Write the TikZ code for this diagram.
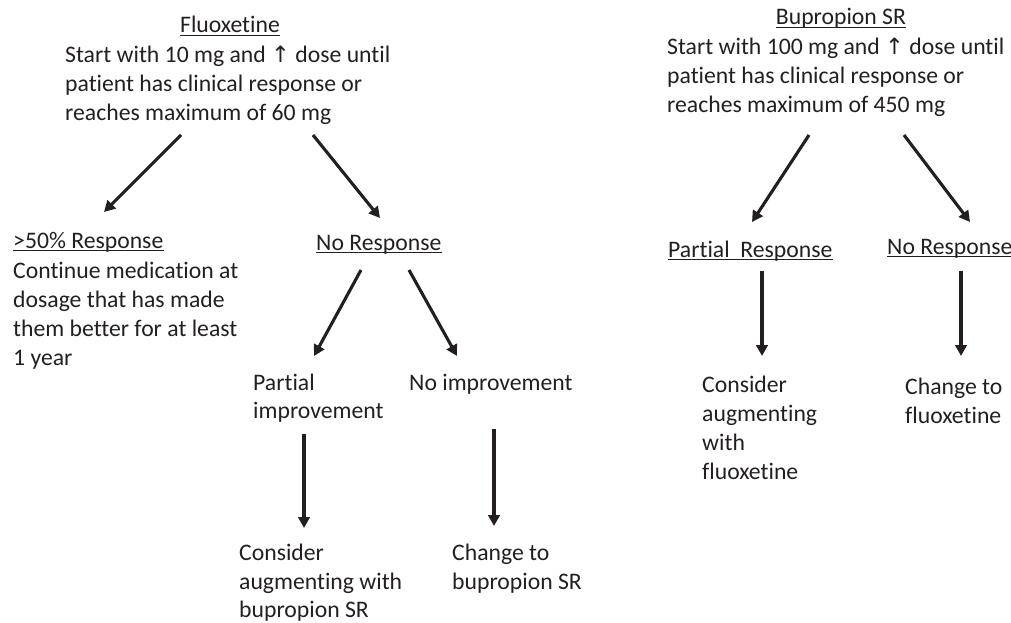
\documentclass[tikz,border=0pt]{standalone}
\usepackage{fontspec}
\setmainfont{Carlito}[Ligatures=NoCommon]
\newfontfamily\symfont{DejaVu Sans}[Scale=0.95]
\usetikzlibrary{arrows.meta}
\definecolor{ink}{HTML}{231F20}
\tikzset{
  txt/.style={inner sep=0pt, anchor=base west, text=ink, font=\fontsize{23.7}{29}\selectfont},
  ttl/.style={txt, anchor=base},
  arr/.style={line width=3.1pt, draw=ink, -{Triangle[length=11pt,width=11.5pt]}},
  ul/.style={line width=1.6pt, draw=ink}
}
\newcommand{\up}{{\symfont ↑}}
\begin{document}
\begin{tikzpicture}[x=1pt,y=-1pt]
\useasboundingbox (0,0) rectangle (1011,623);
% ---------- Left tree ----------
\node[ttl] (fT) at (230,33) {Fluoxetine};
\node[txt] (f1) at (65,63) {Start with 10 mg and \up\ dose until};
\node[txt] (f2) at (65,92) {patient has clinical response or};
\node[txt] (f3) at (65,121) {reaches maximum of 60 mg};
\coordinate (a1s) at (181,135); \coordinate (a1e) at (104,212);
\coordinate (a2s) at (313,135); \coordinate (a2e) at (380,218);
\draw[arr] (a1s) -- (a1e);
\draw[arr] (a2s) -- (a2e);

\node[txt] (rT) at (13,248) {>50\% Response};
\node[txt] (r1) at (13,278) {Continue medication at};
\node[txt] (r2) at (13,307) {dosage that has made};
\node[txt] (r3) at (13,336) {them better for at least};
\node[txt] (r4) at (13,365) {1 year};

\node[txt] (nT) at (316,250) {No Response};
\coordinate (b1s) at (361,270); \coordinate (b1e) at (314,356);
\coordinate (b2s) at (409,270); \coordinate (b2e) at (457,356);
\draw[arr] (b1s) -- (b1e);
\draw[arr] (b2s) -- (b2e);

\node[txt] (p1) at (253,390) {Partial};
\node[txt] (p2) at (253,418) {improvement};
\node[txt] (ni) at (409,390) {No improvement};
\coordinate (c1s) at (304,434); \coordinate (c1e) at (304,528);
\coordinate (c2s) at (494,429); \coordinate (c2e) at (494,526);
\draw[arr] (c1s) -- (c1e);
\draw[arr] (c2s) -- (c2e);

\node[txt] (ca1) at (239,560) {Consider};
\node[txt] (ca2) at (239,589) {augmenting with};
\node[txt] (ca3) at (239,617) {bupropion SR};
\node[txt] (cb1) at (452,560) {Change to};
\node[txt] (cb2) at (452,589) {bupropion SR};

% ---------- Right tree ----------
\node[ttl] (bT) at (841,25) {Bupropion SR};
\node[txt] (b1) at (667,55) {Start with 100 mg and \up\ dose until};
\node[txt] (b2) at (667,84) {patient has clinical response or};
\node[txt] (b3) at (667,113) {reaches maximum of 450 mg};
\coordinate (d1s) at (809,135); \coordinate (d1e) at (752,222);
\coordinate (d2s) at (904,135); \coordinate (d2e) at (970,222);
\draw[arr] (d1s) -- (d1e);
\draw[arr] (d2s) -- (d2e);

\node[txt] (prT) at (668,257) {Partial\ \ Response};
\node[txt] (nrT) at (887,254) {No Response};
\coordinate (e1s) at (762,271); \coordinate (e1e) at (762,356);
\coordinate (e2s) at (961,271); \coordinate (e2e) at (961,356);
\draw[arr] (e1s) -- (e1e);
\draw[arr] (e2s) -- (e2e);

\node[txt] (g1) at (702,392) {Consider};
\node[txt] (g2) at (702,421) {augmenting};
\node[txt] (g3) at (702,450) {with};
\node[txt] (g4) at (702,479) {fluoxetine};
\node[txt] (h1) at (905,394) {Change to};
\node[txt] (h2) at (905,423) {fluoxetine};

% ---------- underlines ----------
\foreach \n in {fT,rT,nT,bT,prT,nrT}
  \draw[ul] ([yshift=-2.5pt]\n.base west) -- ([yshift=-2.5pt]\n.base east);
\end{tikzpicture}
\end{document}
